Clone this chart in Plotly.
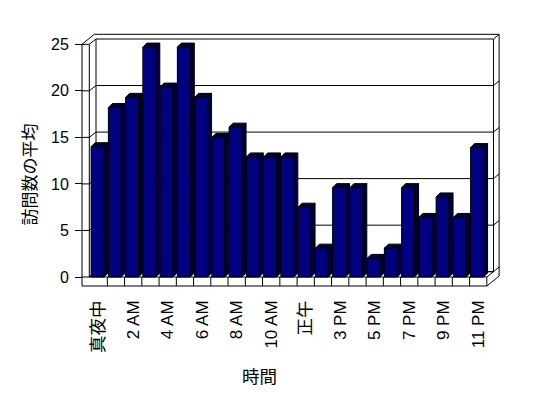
import plotly.graph_objects as go

# ---------------- data ----------------
categories = ["真夜中", "1 AM", "2 AM", "3 AM", "4 AM", "5 AM", "6 AM", "7 AM", "8 AM",
              "9 AM", "10 AM", "11 AM", "正午", "2 PM", "3 PM", "4 PM", "5 PM", "6 PM",
              "7 PM", "8 PM", "9 PM", "10 PM", "11 PM"]
values = [14.0, 18.2, 19.3, 24.7, 20.4, 24.7, 19.3, 15.0, 16.1, 12.9, 12.9, 12.9,
          7.5, 3.1, 9.6, 9.6, 2.0, 3.1, 9.6, 6.4, 8.6, 6.4, 13.9]
tick_idx = list(range(0, len(categories), 2))
tick_labels = [categories[i] for i in tick_idx]
y_ticks = [0, 5, 10, 15, 20, 25]
y_title = "訪問数の平均"
x_title = "時間"

# ---------------- geometry (pixels -> axis units) ----------------
W, H = 548, 398
L, R, T, B = 80, 502, 31, 288
KX, KY = 17.25, 9.308          # px per category, px per unit
PX_X0, PX_Y0 = 98.7, 277.0     # px of category 0 centre / value 0 (front plane)
xr = [(L - PX_X0) / KX, (R - PX_X0) / KX]
yr = [(PX_Y0 - B) / KY, (PX_Y0 - T) / KY]


def ux(px):
    return px / KX


def uy(px):
    return px / KY


X_OUT = (82 - PX_X0) / KX
X_IN = (89.3 - PX_X0) / KX
X_END = len(categories) - 0.5
Y_TOP = y_ticks[-1]
Y_FB = -uy(9)
IN_DX, IN_DY = ux(6.7), uy(5.3)
OUT_DX, OUT_DY = ux(12.3), uy(10)

BAR_W, BAR_OFF = 0.75, -0.44
BDX, BDY = ux(4), uy(4)

CJK_FONT = "Noto Sans CJK JP"
LAT_FONT = "Liberation Sans, Arial, Noto Sans CJK JP, sans-serif"


def cjk(s, size):
    if any(ord(c) > 0x2E80 for c in s):
        return f"<span style='font-family:{CJK_FONT};font-size:{size}px'>{s}</span>"
    return s


# ---------------- wall / floor shapes ----------------
shapes = []


def line(x0, y0, x1, y1):
    shapes.append(dict(type="line", xref="x", yref="y", x0=x0, y0=y0, x1=x1, y1=y1,
                       line=dict(color="black", width=1), layer="below"))


def path(pts):
    d = "M " + " L ".join(f"{x},{y}" for x, y in pts)
    shapes.append(dict(type="path", xref="x", yref="y", path=d,
                       line=dict(color="black", width=1), layer="below"))


# left wall
line(X_OUT, Y_TOP, X_OUT, Y_FB)
line(X_IN, Y_TOP, X_IN, 0)
line(X_OUT, Y_TOP, X_OUT + OUT_DX, Y_TOP + OUT_DY)
# top outer edge + right outer edge
path([(X_OUT + OUT_DX, Y_TOP + OUT_DY), (X_END + OUT_DX, Y_TOP + OUT_DY),
      (X_END + OUT_DX, Y_FB + OUT_DY), (X_END, Y_FB)])
# floor
line(X_OUT, Y_FB, X_END, Y_FB)
line(X_IN, 0, X_END, 0)
line(X_END, 0, X_END, Y_FB)
for k in range(len(categories) - 1):
    line(k + 0.5, 0, k + 0.5, Y_FB)
# back wall inner edges
path([(X_END + IN_DX, Y_TOP + IN_DY), (X_END + IN_DX, IN_DY), (X_END, 0)])
path([(X_IN + IN_DX, Y_TOP + IN_DY), (X_IN + IN_DX, IN_DY)])
path([(X_IN, 0), (X_IN + IN_DX, IN_DY), (X_END + IN_DX, IN_DY)])
# gridlines (front stub on left wall, back wall line, right stub)
for v in y_ticks:
    path([(X_OUT, v), (X_IN, v), (X_IN + IN_DX, v + IN_DY),
          (X_END + IN_DX, v + IN_DY), (X_END + OUT_DX, v + OUT_DY)])

# ---------------- bar side / top faces ----------------
sx, sy = [], []
for i, v in enumerate(values):
    xl = i + BAR_OFF
    xrr = xl + BAR_W
    # side face
    sx += [xrr, xrr + BDX, xrr + BDX, xrr, xrr, None]
    sy += [0, BDY, v + BDY, v, 0, None]
    # top face
    sx += [xl, xl + BDX, xrr + BDX, xrr, xl, None]
    sy += [v, v + BDY, v + BDY, v, v, None]

fig = go.Figure()
fig.add_trace(go.Scatter(x=sx, y=sy, mode="lines", fill="toself",
                         fillcolor="#00003c", line=dict(color="black", width=1),
                         hoverinfo="skip", showlegend=False))
fig.add_trace(go.Bar(x=list(range(len(categories))), y=values, width=BAR_W, offset=BAR_OFF,
                     marker=dict(color="#000080", line=dict(color="black", width=1)),
                     showlegend=False))

fig.update_layout(
    width=W, height=H,
    margin=dict(l=L, r=W - R, t=T, b=H - B, pad=0),
    paper_bgcolor="white", plot_bgcolor="white",
    font=dict(family=LAT_FONT, size=15, color="black"),
    shapes=shapes,
    xaxis=dict(range=xr, showgrid=False, zeroline=False, showline=False,
               tickmode="array", tickvals=tick_idx,
               ticktext=[cjk(t, 17.5) for t in tick_labels],
               tickangle=-90, ticks="", ticklabelstandoff=8,
               tickfont=dict(size=17, color="black")),
    yaxis=dict(range=yr, showgrid=False, zeroline=False, showline=False,
               anchor="free", position=(82 - L) / (R - L),
               tickmode="array", tickvals=y_ticks, ticks="outside", ticklen=7,
               tickwidth=1, tickcolor="black", ticklabelstandoff=3,
               tickfont=dict(size=16, color="black")),
    annotations=[
        dict(text=cjk(y_title, 17), xref="paper", yref="paper",
             x=(27.5 - L) / (R - L), y=(B - 175) / (B - T), textangle=-90,
             showarrow=False, xanchor="center", yanchor="middle"),
        dict(text=cjk(x_title, 17.5), xref="paper", yref="paper",
             x=(259 - L) / (R - L), y=(B - 375.5) / (B - T),
             showarrow=False, xanchor="center", yanchor="middle"),
    ],
)

fig.write_html("out.html", config={"displayModeBar": False, "staticPlot": True})

# remove the default 8px page margin so the figure sits at the window origin
with open("out.html", encoding="utf-8") as f:
    html = f.read()
html = html.replace("<body>", "<body style=\"margin:0;padding:0;overflow:hidden\">", 1)
with open("out.html", "w", encoding="utf-8") as f:
    f.write(html)
